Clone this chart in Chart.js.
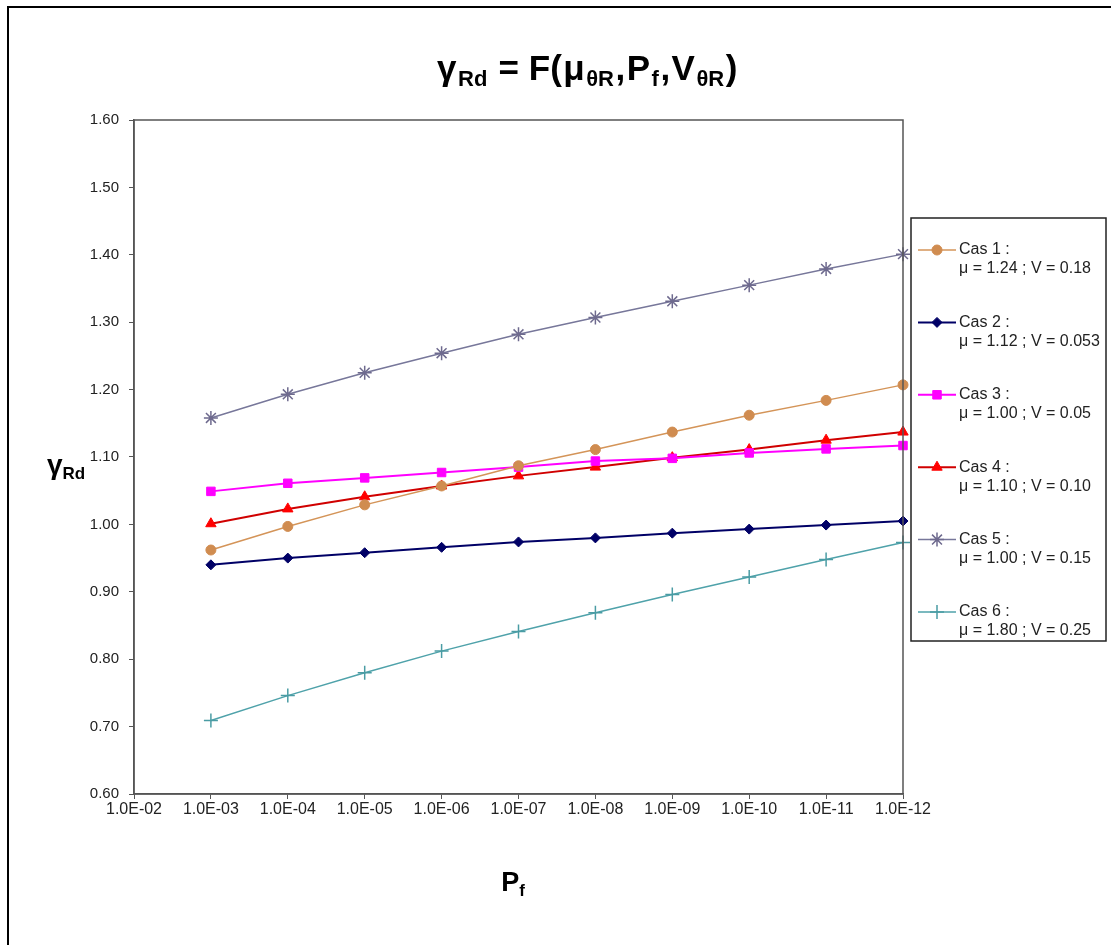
<!DOCTYPE html>
<html>
<head>
<meta charset="utf-8">
<script src="https://cdn.jsdelivr.net/npm/chart.js@4/dist/chart.umd.min.js"></script>
<style>
    body { margin: 0; background: #fff; }
    #wrap { width: 1111px; height: 945px; }
</style>
</head>
<body>
<div id="wrap"><canvas id="gammaChart" width="1111" height="945"></canvas></div>
<script>
const xLabels = ['1.0E-02', '1.0E-03', '1.0E-04', '1.0E-05', '1.0E-06', '1.0E-07',
                 '1.0E-08', '1.0E-09', '1.0E-10', '1.0E-11', '1.0E-12'];

const cas1 = [null, 0.962, 0.997, 1.029, 1.057, 1.087, 1.111, 1.137, 1.162, 1.184, 1.207];
const cas2 = [null, 0.940, 0.950, 0.958, 0.966, 0.974, 0.980, 0.987, 0.993, 0.999, 1.005];
const cas3 = [null, 1.049, 1.061, 1.069, 1.077, 1.085, 1.094, 1.098, 1.106, 1.112, 1.117];
const cas4 = [null, 1.001, 1.023, 1.041, 1.057, 1.072, 1.085, 1.099, 1.111, 1.125, 1.137];
const cas5 = [null, 1.158, 1.193, 1.225, 1.254, 1.282, 1.307, 1.331, 1.355, 1.379, 1.401];
const cas6 = [null, 0.709, 0.746, 0.780, 0.812, 0.841, 0.869, 0.896, 0.922, 0.948, 0.973];

const caseNames = ['Cas 1 :', 'Cas 2 :', 'Cas 3 :', 'Cas 4 :', 'Cas 5 :', 'Cas 6 :'];
const caseParams = ['μ = 1.24 ; V = 0.18', 'μ = 1.12 ; V = 0.053', 'μ = 1.00 ; V = 0.05',
                    'μ = 1.10 ; V = 0.10', 'μ = 1.00 ; V = 0.15', 'μ = 1.80 ; V = 0.25'];

const FONT = "'Liberation Sans', Arial, sans-serif";

function makeSet(i, data, color, lineColor, style, radius, width) {
    return {
        label: caseNames[i] + ' ' + caseParams[i],
        data: data,
        borderColor: lineColor,
        backgroundColor: color,
        pointBorderColor: color,
        pointBackgroundColor: color,
        pointStyle: style,
        pointRadius: radius,
        pointBorderWidth: (style === 'star' || style === 'cross') ? 1.5 : 1,
        borderWidth: width,
        tension: 0,
        spanGaps: false
    };
}

const datasets = [
    makeSet(0, cas1, '#D08C50', '#D49458', 'circle', 5, 1.5),
    makeSet(1, cas2, '#000066', '#000066', 'rectRot', 5, 2),
    makeSet(2, cas3, '#FF00FF', '#FF00FF', 'rect', 6, 2),
    makeSet(3, cas4, '#FF0000', '#D00000', 'triangle', 6, 2),
    makeSet(4, cas5, '#6E6A8E', '#77779A', 'star', 7, 1.5),
    makeSet(5, cas6, '#4A9CA4', '#4FA2AA', 'cross', 7, 1.5)
];

// draws text runs with subscripts, centred on cx
function drawRich(ctx, parts, cx, y, size, spacing) {
    const subSize = Math.round(size * 0.62);
    const gap = spacing || 0;
    let total = 0;
    parts.forEach(p => {
        ctx.font = 'bold ' + (p.sub ? subSize : size) + 'px ' + FONT;
        p.w = ctx.measureText(p.t).width + gap;
        total += p.w;
    });
    let x = cx - total / 2;
    ctx.textAlign = 'left';
    ctx.textBaseline = 'alphabetic';
    parts.forEach(p => {
        ctx.font = 'bold ' + (p.sub ? subSize : size) + 'px ' + FONT;
        ctx.fillText(p.t, x, p.sub ? y + size * 0.18 : y);
        x += p.w;
    });
}

const decorPlugin = {
    id: 'decor',
    afterDraw(chart) {
        const ctx = chart.ctx;
        const a = chart.chartArea;
        ctx.save();

        // outer frame (left and top)
        ctx.strokeStyle = '#000';
        ctx.lineWidth = 2;
        ctx.beginPath();
        ctx.moveTo(8, 945);
        ctx.lineTo(8, 7);
        ctx.lineTo(1111, 7);
        ctx.stroke();

        // plot area box
        ctx.strokeStyle = '#555';
        ctx.lineWidth = 1.5;
        ctx.strokeRect(a.left, a.top, a.right - a.left, a.bottom - a.top);

        // title
        ctx.fillStyle = '#000';
        drawRich(ctx, [
            { t: 'γ' }, { t: 'Rd', sub: true }, { t: ' = F(' }, { t: 'μ' }, { t: 'θR', sub: true },
            { t: ',' }, { t: 'P' }, { t: 'f', sub: true }, { t: ',' }, { t: 'V' }, { t: 'θR', sub: true },
            { t: ')' }
        ], 588, 80, 35, 1.5);

        // axis titles
        drawRich(ctx, [{ t: 'γ' }, { t: 'Rd', sub: true }], 66, 474, 28);
        drawRich(ctx, [{ t: 'P' }, { t: 'f', sub: true }], 513, 891, 27);

        // legend
        const lx = 911, ly = 218, lw = 195, lh = 423;
        ctx.strokeStyle = '#222';
        ctx.lineWidth = 1.5;
        ctx.strokeRect(lx, ly, lw, lh);
        chart.data.datasets.forEach((ds, i) => {
            const y = 250 + i * 72.4;
            ctx.strokeStyle = ds.borderColor;
            ctx.lineWidth = ds.borderWidth;
            ctx.beginPath();
            ctx.moveTo(918, y);
            ctx.lineTo(956, y);
            ctx.stroke();
            ctx.fillStyle = ds.pointBackgroundColor;
            ctx.strokeStyle = ds.pointBorderColor;
            ctx.lineWidth = ds.pointBorderWidth;
            Chart.helpers.drawPoint(ctx, {
                pointStyle: ds.pointStyle,
                radius: ds.pointRadius,
                rotation: 0,
                borderWidth: ds.pointBorderWidth
            }, 937, y);
            ctx.fillStyle = '#222';
            ctx.font = '16px ' + FONT;
            ctx.textAlign = 'left';
            ctx.textBaseline = 'middle';
            ctx.fillText(caseNames[i], 959, y);
            ctx.fillText(caseParams[i], 959, y + 19);
        });
        ctx.restore();
    }
};

new Chart(document.getElementById('gammaChart'), {
    type: 'line',
    data: { labels: xLabels, datasets: datasets },
    plugins: [decorPlugin],
    options: {
        responsive: false,
        animation: false,
        layout: { padding: { top: 120, right: 208, left: 0, bottom: 0 } },
        plugins: {
            legend: { display: false },
            tooltip: { enabled: false }
        },
        scales: {
            x: {
                offset: false,
                afterFit(scale) { scale.height = 151; },
                border: { color: '#555', width: 1.5 },
                grid: { drawOnChartArea: false, drawTicks: true, tickLength: 5, color: '#555' },
                ticks: {
                    autoSkip: false,
                    maxRotation: 0,
                    padding: 1,
                    color: '#222',
                    font: { family: FONT, size: 16 }
                }
            },
            y: {
                min: 0.6,
                max: 1.6,
                afterFit(scale) { scale.width = 134; },
                border: { color: '#555', width: 1.5 },
                grid: { drawOnChartArea: false, drawTicks: true, tickLength: 5, color: '#555' },
                ticks: {
                    stepSize: 0.1,
                    padding: 10,
                    color: '#222',
                    font: { family: FONT, size: 15 },
                    callback: function(value) {
                        return value.toFixed(2);
                    }
                }
            }
        }
    }
});
</script>
</body>
</html>
